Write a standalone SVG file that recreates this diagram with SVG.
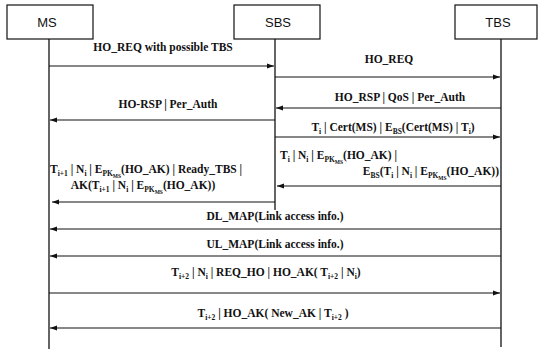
<svg xmlns="http://www.w3.org/2000/svg" width="538" height="349" viewBox="0 0 538 349">
<style>
.box{fill:#fff;stroke:#111;stroke-width:1.2}
.hd{font-family:"Liberation Sans",Arial,sans-serif;font-size:13px;fill:#111;text-anchor:middle}
.life{stroke:#111;stroke-width:1.3;fill:none}
.msg{stroke:#111;stroke-width:1.2;fill:none;marker-end:url(#ah)}
.t{font-family:"Liberation Serif","Times New Roman",serif;font-weight:bold;font-size:11.5px;fill:#111}
.c{text-anchor:middle}
.e{text-anchor:end}
.s{font-size:7.5px}
.ss{font-size:5.5px}
</style>
<defs>
<marker id="ah" markerWidth="8" markerHeight="6" refX="7" refY="3" orient="auto" markerUnits="userSpaceOnUse">
<path d="M0,0.5 L7,3 L0,5.5 Z" fill="#111"/>
</marker>
</defs>
<g id="MS"><rect class="box" x="7" y="5" width="86" height="34"/><text class="hd" x="47" y="27">MS</text><line class="life" x1="49" y1="39" x2="49" y2="349"/></g>
<g id="SBS"><rect class="box" x="234" y="5" width="86" height="34"/><text class="hd" x="278" y="27">SBS</text><line class="life" x1="275" y1="39" x2="275" y2="210"/></g>
<g id="TBS"><rect class="box" x="455" y="5" width="82" height="34"/><text class="hd" x="498" y="27">TBS</text><line class="life" x1="501" y1="39" x2="501" y2="347"/></g>
<g id="connectors">
<line class="msg" x1="49" y1="66" x2="274" y2="66"/>
<line class="msg" x1="275" y1="77" x2="500" y2="77"/>
<line class="msg" x1="501" y1="108" x2="276" y2="108"/>
<line class="msg" x1="275" y1="120" x2="50" y2="120"/>
<line class="msg" x1="275" y1="137" x2="500" y2="137"/>
<line class="msg" x1="501" y1="186" x2="277" y2="186"/>
<line class="msg" x1="275" y1="202" x2="52" y2="202"/>
<line class="msg" x1="501" y1="229" x2="50" y2="229"/>
<line class="msg" x1="501" y1="256" x2="50" y2="256"/>
<line class="msg" x1="49" y1="293" x2="500" y2="293"/>
<line class="msg" x1="501" y1="328" x2="50" y2="328"/>
</g>
<g id="labels">
<text class="t c" x="163" y="51">HO_REQ with possible TBS</text>
<text class="t c" x="389" y="63">HO_REQ</text>
<text class="t c" x="400" y="101">HO_RSP | QoS | Per_Auth</text>
<text class="t c" x="168" y="108">HO-RSP | Per_Auth</text>
<text class="t c" x="393" y="131">T<tspan class="s" dy="3">i</tspan><tspan dy="-3"> | Cert(MS) | E</tspan><tspan class="s" dy="3">BS</tspan><tspan dy="-3">(Cert(MS) | T</tspan><tspan class="s" dy="3">i</tspan><tspan dy="-3">)</tspan></text>
<text class="t" x="280" y="159">T<tspan class="s" dy="3">i</tspan><tspan dy="-3"> | N</tspan><tspan class="s" dy="3">i</tspan><tspan dy="-3"> | E</tspan><tspan class="s" dy="3">PK</tspan><tspan class="ss" dy="1.5">MS</tspan><tspan dy="-4.5">(HO_AK) |</tspan></text>
<text class="t e" x="499" y="175">E<tspan class="s" dy="3">BS</tspan><tspan dy="-3">(T</tspan><tspan class="s" dy="3">i</tspan><tspan dy="-3"> | N</tspan><tspan class="s" dy="3">i</tspan><tspan dy="-3"> | E</tspan><tspan class="s" dy="3">PK</tspan><tspan class="ss" dy="1.5">MS</tspan><tspan dy="-4.5">(HO_AK))</tspan></text>
<text class="t" x="50" y="173">T<tspan class="s" dy="3">i+1</tspan><tspan dy="-3"> | N</tspan><tspan class="s" dy="3">i</tspan><tspan dy="-3"> | E</tspan><tspan class="s" dy="3">PK</tspan><tspan class="ss" dy="1.5">MS</tspan><tspan dy="-4.5">(HO_AK) | Ready_TBS |</tspan></text>
<text class="t c" x="143" y="189">AK(T<tspan class="s" dy="3">i+1</tspan><tspan dy="-3"> | N</tspan><tspan class="s" dy="3">i</tspan><tspan dy="-3"> | E</tspan><tspan class="s" dy="3">PK</tspan><tspan class="ss" dy="1.5">MS</tspan><tspan dy="-4.5">(HO_AK))</tspan></text>
<text class="t c" x="275" y="220">DL_MAP(Link access info.)</text>
<text class="t c" x="275" y="248">UL_MAP(Link access info.)</text>
<text class="t c" x="266" y="276">T<tspan class="s" dy="3">i+2</tspan><tspan dy="-3"> | N</tspan><tspan class="s" dy="3">i</tspan><tspan dy="-3"> | REQ_HO | HO_AK( T</tspan><tspan class="s" dy="3">i+2</tspan><tspan dy="-3"> | N</tspan><tspan class="s" dy="3">i</tspan><tspan dy="-3">)</tspan></text>
<text class="t c" x="273" y="317">T<tspan class="s" dy="3">i+2</tspan><tspan dy="-3"> | HO_AK( New_AK | T</tspan><tspan class="s" dy="3">i+2</tspan><tspan dy="-3"> )</tspan></text>
</g>
</svg>
